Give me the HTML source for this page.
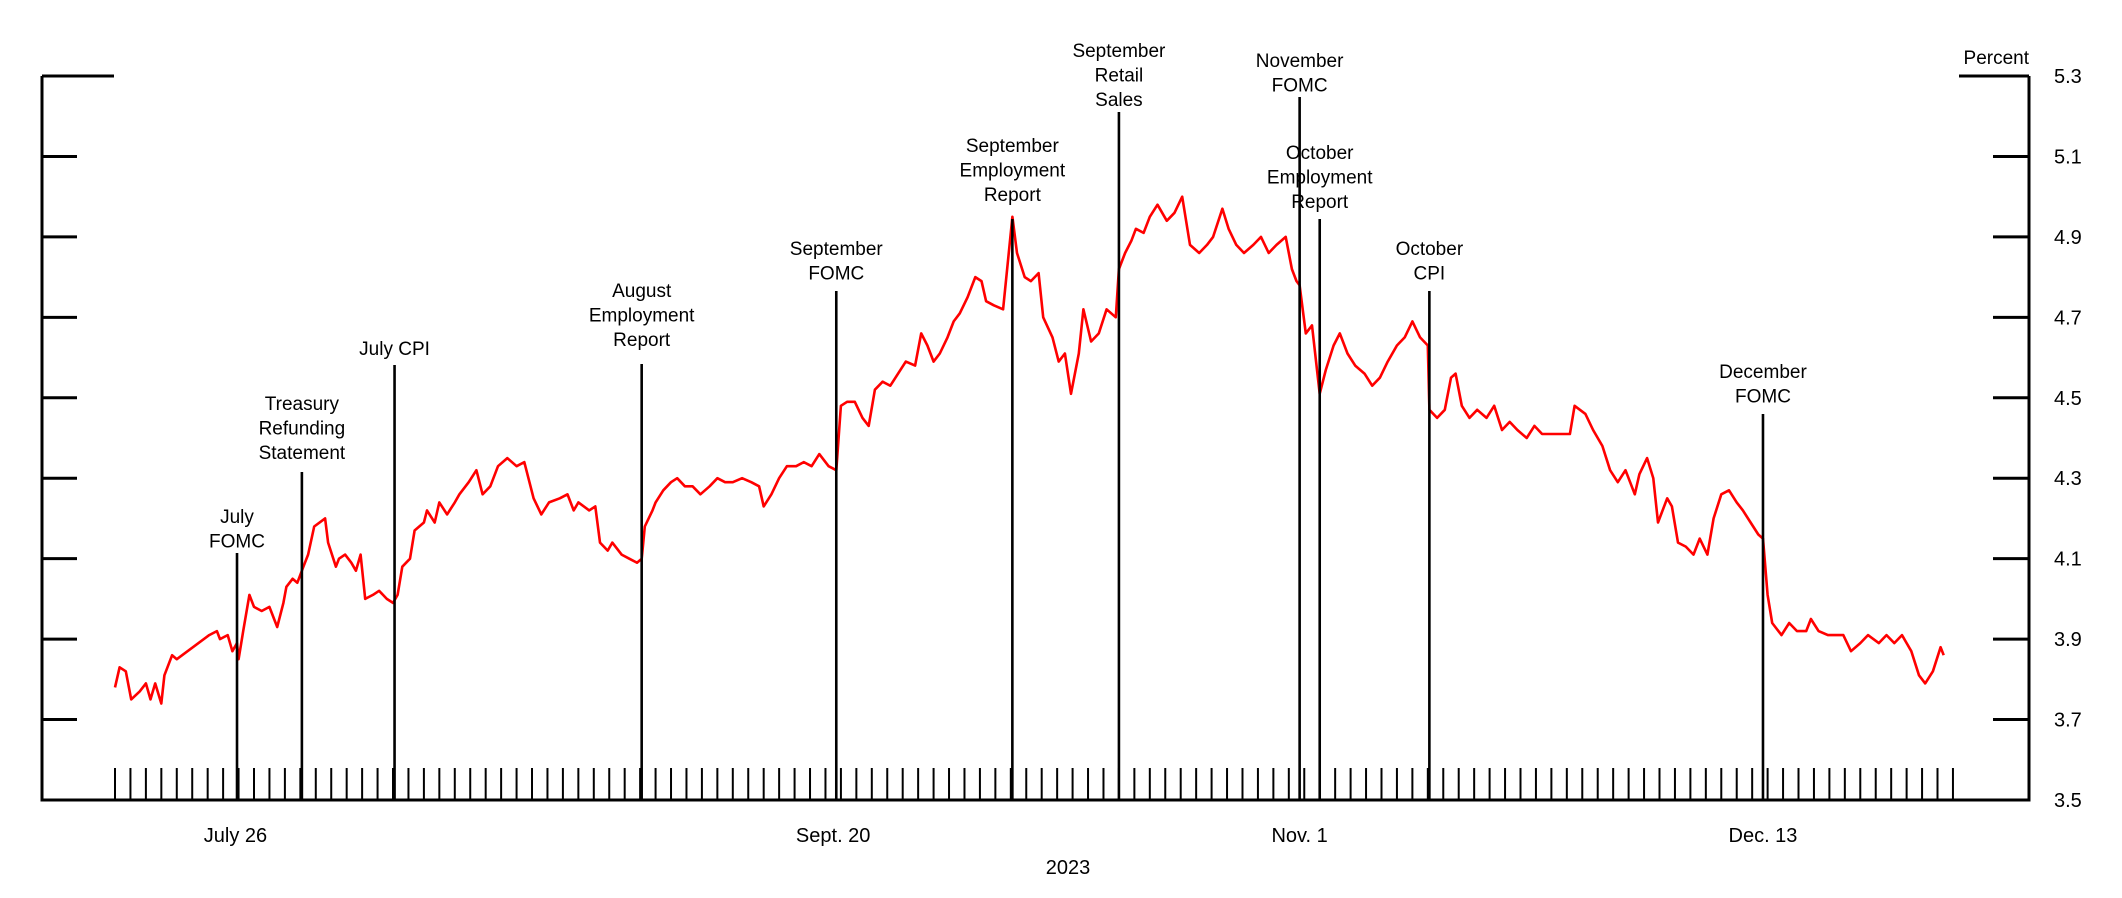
<!DOCTYPE html>
<html><head><meta charset="utf-8">
<style>
html,body{margin:0;padding:0;background:#fff;}
svg{display:block;font-family:"Liberation Sans",Arial,sans-serif;}
</style></head>
<body>
<svg id="chart" width="2122" height="898" viewBox="0 0 2122 898" xmlns="http://www.w3.org/2000/svg"></svg>
<script>
const yTicks=[3.5,3.7,3.9,4.1,4.3,4.5,4.7,4.9,5.1,5.3];
const yTickLabels=["3.5","3.7","3.9","4.1","4.3","4.5","4.7","4.9","5.1","5.3"];
const xLabelIdx=[7.8,46.5,76.7,106.7];
const xLabels=["July 26","Sept. 20","Nov. 1","Dec. 13"];
const eventIdx=[7.9,12.1,18.1,34.1,46.7,58.1,65.0,76.7,78.0,85.1,106.7];
const eventTop=[4.53,4.80,5.08,5.08,5.30,5.30,5.30,5.30,5.30,5.30,4.80];
const eventLabels=[["July","FOMC"],["Treasury","Refunding","Statement"],["July CPI"],["August","Employment","Report"],["September","FOMC"],["September","Employment","Report"],["September","Retail","Sales"],["November","FOMC"],["October","Employment","Report"],["October","CPI"],["December","FOMC"]];
const eventLineTopPx=[553,472,365,364,291,219,112,97,219,291,414];
const eventTextTopPx=[516,403,348,290,248,145,50,60,152,248,371];
const seriesIdx=[0,0.3,0.7,1.05,1.6,2,2.3,2.6,3,3.2,3.7,4,6.1,6.6,6.8,7.3,7.6,7.9,8,8.3,8.7,9,9.5,10,10.5,10.9,11.1,11.5,11.8,12.2,12.5,12.9,13.6,13.8,14.3,14.5,14.9,15.3,15.6,15.9,16.2,16.7,17.1,17.6,18,18.3,18.6,19.1,19.4,20,20.2,20.7,21,21.5,22,22.3,22.9,23.4,23.8,24.3,24.8,25.4,26,26.5,27.1,27.6,28.1,28.8,29.3,29.7,30,30.7,31.1,31.4,31.9,32.2,32.8,33.3,33.8,34.1,34.3,34.8,35,35.5,36,36.4,36.9,37.4,37.9,38.5,39,39.5,40,40.6,41.2,41.7,42,42.5,43,43.5,44.1,44.6,45.1,45.6,46.2,46.7,47,47.4,47.9,48.4,48.8,49.2,49.7,50.2,50.7,51.2,51.8,52.2,52.6,53,53.4,53.9,54.3,54.7,55.2,55.7,56.1,56.4,56.9,57.5,58.1,58.4,58.9,59.3,59.8,60.1,60.7,61.1,61.5,61.9,62.4,62.7,63.2,63.7,64.2,64.8,65,65.4,65.8,66.1,66.6,67,67.5,68.1,68.6,69.1,69.6,70.2,70.7,71.1,71.7,72.1,72.6,73.1,73.7,74.2,74.7,75.2,75.8,76.2,76.5,76.7,77.1,77.5,78,78.4,78.9,79.3,79.8,80.3,80.9,81.4,81.9,82.4,83,83.5,84,84.5,85,85.1,85.6,86.1,86.5,86.8,87.2,87.7,88.2,88.8,89.3,89.8,90.3,90.8,91.4,91.9,92.4,93.1,94.2,94.5,95.2,95.7,96.3,96.8,97.3,97.8,98.4,98.7,99.2,99.6,99.9,100.5,100.8,101.2,101.7,102.2,102.6,103.1,103.5,104,104.5,105,105.4,105.9,106.4,106.7,107,107.3,107.9,108.4,108.9,109.5,109.8,110.3,110.9,111.4,111.9,112.4,113,113.5,114.2,114.7,115.2,115.7,116.3,116.8,117.2,117.7,118.2,118.4];
const seriesVals=[3.78,3.83,3.82,3.75,3.77,3.79,3.75,3.79,3.74,3.81,3.86,3.85,3.91,3.92,3.90,3.91,3.87,3.89,3.85,3.92,4.01,3.98,3.97,3.98,3.93,3.99,4.03,4.05,4.04,4.08,4.11,4.18,4.20,4.14,4.08,4.10,4.11,4.09,4.07,4.11,4.00,4.01,4.02,4.00,3.99,4.01,4.08,4.10,4.17,4.19,4.22,4.19,4.24,4.21,4.24,4.26,4.29,4.32,4.26,4.28,4.33,4.35,4.33,4.34,4.25,4.21,4.24,4.25,4.26,4.22,4.24,4.22,4.23,4.14,4.12,4.14,4.11,4.10,4.09,4.10,4.18,4.22,4.24,4.27,4.29,4.30,4.28,4.28,4.26,4.28,4.30,4.29,4.29,4.30,4.29,4.28,4.23,4.26,4.30,4.33,4.33,4.34,4.33,4.36,4.33,4.32,4.48,4.49,4.49,4.45,4.43,4.52,4.54,4.53,4.56,4.59,4.58,4.66,4.63,4.59,4.61,4.65,4.69,4.71,4.75,4.80,4.79,4.74,4.73,4.72,4.95,4.86,4.80,4.79,4.81,4.70,4.65,4.59,4.61,4.51,4.61,4.72,4.64,4.66,4.72,4.70,4.82,4.86,4.89,4.92,4.91,4.95,4.98,4.94,4.96,5.00,4.88,4.86,4.88,4.90,4.97,4.92,4.88,4.86,4.88,4.90,4.86,4.88,4.90,4.82,4.79,4.78,4.66,4.68,4.51,4.57,4.63,4.66,4.61,4.58,4.56,4.53,4.55,4.59,4.63,4.65,4.69,4.65,4.63,4.47,4.45,4.47,4.55,4.56,4.48,4.45,4.47,4.45,4.48,4.42,4.44,4.42,4.40,4.43,4.41,4.41,4.41,4.48,4.46,4.42,4.38,4.32,4.29,4.32,4.26,4.31,4.35,4.30,4.19,4.25,4.23,4.14,4.13,4.11,4.15,4.11,4.20,4.26,4.27,4.24,4.22,4.19,4.16,4.15,4.01,3.94,3.91,3.94,3.92,3.92,3.95,3.92,3.91,3.91,3.91,3.87,3.89,3.91,3.89,3.91,3.89,3.91,3.87,3.81,3.79,3.82,3.88,3.86];

const NS="http://www.w3.org/2000/svg";
const svg=document.getElementById('chart');
const L=42,R=2029,T=76,B=800;
const x0=115,dx=15.445,nTicks=120;
function X(i){return x0+i*dx;}
function Y(v){return B-(v-3.5)/(5.3-3.5)*(B-T);}
function mk(tag,attrs,parent){const e=document.createElementNS(NS,tag);for(const k in attrs)e.setAttribute(k,attrs[k]);(parent||svg).appendChild(e);return e;}

// axes
let ax=mk('path',{d:`M${L},${T} V${B} H${R} V${T}`,fill:'none',stroke:'#000','stroke-width':3});


yTicks.forEach((v,k)=>{
  const y=Y(v);
  const top=(k===yTicks.length-1);
  let t1=mk('line',{x1:L,x2:top?114:77,y1:y,y2:y,stroke:'#000','stroke-width':3});
  
  
  let t2=mk('line',{x1:top?1959:1993,x2:R,y1:y,y2:y,stroke:'#000','stroke-width':3});
  
  
  let tl=mk('text',{x:2054,y:y+7,'font-size':20});
  tl.textContent=yTickLabels[k];
  
  
});
let pc=mk('text',{x:2029,y:64,'font-size':19,'text-anchor':'end'});
pc.textContent='Percent';



for(let i=0;i<nTicks;i++){
  let t=mk('line',{x1:X(i),x2:X(i),y1:768,y2:B,stroke:'#000','stroke-width':2});
  
  
}
xLabelIdx.forEach((i,k)=>{
  let t=mk('text',{x:X(i),y:842,'font-size':20,'text-anchor':'middle'});
  t.textContent=xLabels[k];
  
  
});
let yr=mk('text',{x:1068,y:874,'font-size':20,'text-anchor':'middle'});
yr.textContent='2023';



// series
const pts=seriesIdx.map((i,k)=>X(i).toFixed(1)+','+Y(seriesVals[k]).toFixed(1)).join(' ');
let ln=mk('polyline',{points:pts,fill:'none',stroke:'#ff0000','stroke-width':2.6,'stroke-linejoin':'round'});



// events
eventIdx.forEach((i,k)=>{
  const x=X(i);
  let l=mk('line',{x1:x,x2:x,y1:eventLineTopPx[k],y2:B,stroke:'#000','stroke-width':2.6});
  
  
  eventLabels[k].forEach((s,j)=>{
    let t=mk('text',{x:x,y:eventTextTopPx[k]+j*24.5+7,'font-size':19,'text-anchor':'middle'});
    t.textContent=s;
    
    
  });
});
</script>
</body></html>
